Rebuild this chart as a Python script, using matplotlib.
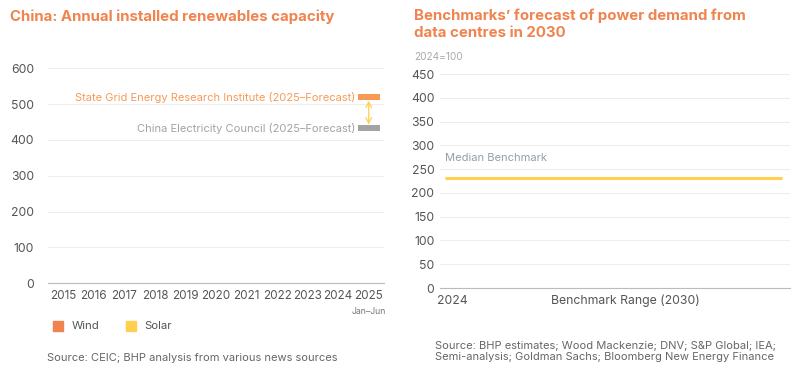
import matplotlib.pyplot as plt
from matplotlib.patches import Rectangle

plt.rcParams['font.family'] = ['Inter', 'DejaVu Sans']

years = ["2015", "2016", "2017", "2018", "2019", "2020", "2021", "2022", "2023", "2024", "2025"]
wind = [0, 0, 0, 0, 0, 0, 0, 0, 0, 0, 0]
solar = [0, 0, 0, 0, 0, 0, 0, 0, 0, 0, 0]
forecast_names = ["State Grid Energy Research Institute (2025–Forecast)",
                  "China Electricity Council (2025–Forecast)"]
forecast_values = [520, 433]

bench_cats = ["2024", "Benchmark Range (2030)"]
median_benchmark = 232

ORANGE = "#F0834E"
LIGHT_ORANGE = "#F89A55"
YELLOW = "#FFCF4F"
GREY = "#A3A3A3"
TICK = "#555555"
GRID = "#EDEDED"

fig = plt.figure(figsize=(8, 3.8), dpi=100)

# ---- left chart
ax = fig.add_axes([0.06, 0.255, 0.42, 0.565])
x = range(len(years))
ax.bar(x, wind, width=0.6, color=ORANGE)
ax.bar(x, solar, bottom=wind, width=0.6, color=YELLOW)
ax.set_xlim(-0.5, len(years) - 0.5)
ax.set_ylim(0, 600)
ax.set_yticks(range(0, 601, 100))
ax.set_xticks(list(x))
ax.set_xticklabels(years)
for s in ["top", "right", "left"]:
    ax.spines[s].set_visible(False)
ax.spines["bottom"].set_color("#BBBBBB")
ax.grid(axis="y", color=GRID, lw=0.8)
ax.set_axisbelow(True)
ax.tick_params(length=0, labelsize=8.8, colors=TICK, pad=5)
ax.tick_params(axis="x", labelsize=8.4)
ax.tick_params(axis="y", pad=10)

last = len(years) - 1
cols = [LIGHT_ORANGE, GREY]
for name, val, c in zip(forecast_names, forecast_values, cols):
    ax.bar(last, 18, bottom=val - 9, width=0.72, color=c)
    ax.text(last - 0.45, val, name, ha="right", va="center", fontsize=8, color=c)
ax.annotate("", xy=(last, forecast_values[1] + 10), xytext=(last, forecast_values[0] - 10),
            arrowprops=dict(arrowstyle="<->", color=YELLOW, lw=0.9, shrinkA=0, shrinkB=0))
ax.text(last, -0.13, "Jan–Jun", transform=ax.get_xaxis_transform(), ha="center",
        va="center", fontsize=6.3, color="#777777")

fig.text(0.0125, 0.955, "China: Annual installed renewables capacity", fontsize=10.8,
         fontweight="bold", color=ORANGE, va="center")

fig.patches.append(Rectangle((0.066, 0.128), 0.013, 0.027, color=ORANGE, transform=fig.transFigure))
fig.text(0.09, 0.142, "Wind", fontsize=8.2, color=TICK, va="center")
fig.patches.append(Rectangle((0.157, 0.128), 0.013, 0.027, color=YELLOW, transform=fig.transFigure))
fig.text(0.18, 0.142, "Solar", fontsize=8.2, color=TICK, va="center")
fig.text(0.059, 0.057, "Source: CEIC; BHP analysis from various news sources", fontsize=8,
         color="#666666", va="center")

# ---- right chart
ax2 = fig.add_axes([0.55, 0.242, 0.438, 0.563])
ax2.set_xlim(-0.07, 1.95)
ax2.set_ylim(0, 450)
ax2.set_yticks(range(0, 451, 50))
ax2.set_xticks([0, 1])
ax2.set_xticklabels(bench_cats)
for s in ["top", "right", "left"]:
    ax2.spines[s].set_visible(False)
ax2.spines["bottom"].set_color("#BBBBBB")
ax2.grid(axis="y", color=GRID, lw=0.8)
ax2.set_axisbelow(True)
ax2.tick_params(length=0, labelsize=8.8, colors=TICK, pad=5)
ax2.tick_params(axis="y", pad=4)
ax2.hlines(median_benchmark, 0.015, 0.975, transform=ax2.get_yaxis_transform(),
           color=YELLOW, lw=2.2)
ax2.text(0.015, median_benchmark + 30, "Median Benchmark", transform=ax2.get_yaxis_transform(),
         fontsize=8, color="#8FA0A6", va="bottom")

fig.text(0.518, 0.958, "Benchmarks’ forecast of power demand from", fontsize=10.8,
         fontweight="bold", color=ORANGE, va="center")
fig.text(0.518, 0.912, "data centres in 2030", fontsize=10.8,
         fontweight="bold", color=ORANGE, va="center")
fig.text(0.518, 0.85, "2024=100", fontsize=7.3, color="#AAAAAA", va="center")
fig.text(0.544, 0.075, "Source: BHP estimates; Wood Mackenzie; DNV; S&P Global; IEA;\n"
         "Semi-analysis; Goldman Sachs; Bloomberg New Energy Finance", fontsize=8,
         color="#666666", va="center", linespacing=1.15)

fig.savefig("out.png", dpi=100)
